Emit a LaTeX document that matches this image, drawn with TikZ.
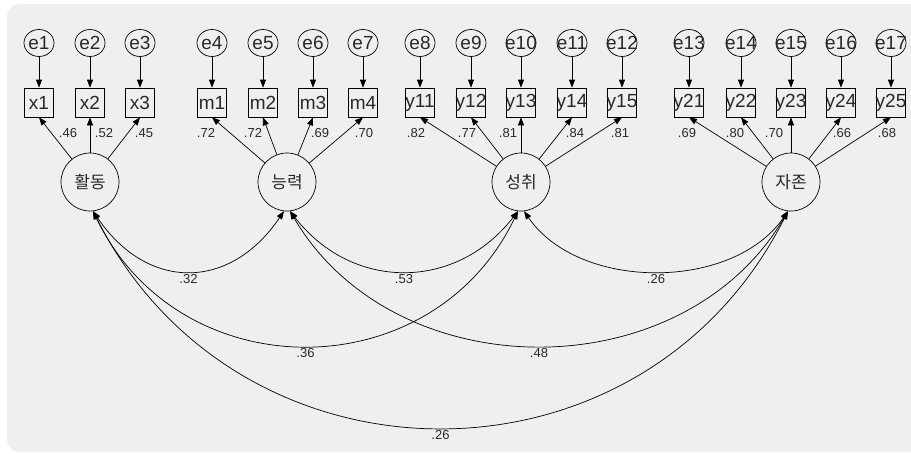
\documentclass[tikz,border=0pt]{standalone}
\usepackage{fontspec}
\setmainfont{Liberation Sans}
\newfontfamily\kr{Noto Sans CJK KR}
\usetikzlibrary{arrows.meta,shapes.geometric,calc}
\definecolor{bgc}{RGB}{239,239,239}
\definecolor{txt}{RGB}{40,40,40}
\tikzset{
  err/.style={ellipse, draw, line width=0.7pt, minimum width=30pt, minimum height=27pt, inner sep=0pt, text=txt, font=\fontsize{19}{19}\selectfont},
  obs/.style={rectangle, draw, line width=0.7pt, minimum size=29pt, inner sep=0pt, text=txt, font=\fontsize{19}{19}\selectfont},
  lat/.style={circle, draw, line width=0.7pt, minimum size=58pt, inner sep=0pt, text=txt, font=\kr\fontsize{17}{17}\selectfont},
  val/.style={inner sep=1pt, text=txt, font=\fontsize{13}{13}\selectfont},
  arr/.style={-{Triangle[length=8pt,width=6pt]}, line width=0.7pt},
  cov/.style={{Triangle[length=8pt,width=6pt]}-{Triangle[length=8pt,width=6pt]}, line width=0.7pt}
}
\newcommand{\ind}[4]{\node[err] (e#1) at (#2,43) {\makebox[0pt]{#3}}; \node[obs] (#1) at (#2,102.5) {\makebox[0pt]{#4}}; \draw[arr] (e#1) -- (#1);}
\newcommand{\load}[4]{\draw[arr] (#1) -- (#2.south); \node[val] (l#2) at ($(#2.south)+(#3,16)$) {#4};}
\begin{document}
\begin{tikzpicture}[x=1pt,y=-1pt]
    \clip (0,0) rectangle (911,453);
    \fill[bgc, rounded corners=12pt] (7,4) rectangle (940,452);
    % latent
    \node[lat] (hd) at (90,182) {활동};
    \node[lat] (nr) at (287,182) {능력};
    \node[lat] (sc) at (521,182) {성취};
    \node[lat] (jj) at (791,182) {자존};
    % x
    \ind{x1}{39}{e1}{x1}
    \ind{x2}{90}{e2}{x2}
    \ind{x3}{140}{e3}{x3}
    % m
    \ind{m1}{212}{e4}{m1}
    \ind{m2}{263}{e5}{m2}
    \ind{m3}{313}{e6}{m3}
    \ind{m4}{363}{e7}{m4}
    % y1
    \ind{y11}{420}{e8}{y11}
    \ind{y12}{471}{e9}{y12}
    \ind{y13}{521}{e10}{y13}
    \ind{y14}{572}{e11}{y14}
    \ind{y15}{622}{e12}{y15}
    % y2
    \ind{y21}{689}{e13}{y21}
    \ind{y22}{741}{e14}{y22}
    \ind{y23}{791}{e15}{y23}
    \ind{y24}{841}{e16}{y24}
    \ind{y25}{891}{e17}{y25}
    % loadings
    \load{hd}{x1}{29}{.46}
    \load{hd}{x2}{14}{.52}
    \load{hd}{x3}{4}{.45}
    \load{nr}{m1}{-6}{.72}
    \load{nr}{m2}{-10}{.72}
    \load{nr}{m3}{7}{.69}
    \load{nr}{m4}{1}{.70}
    \load{sc}{y11}{-4}{.82}
    \load{sc}{y12}{-4}{.77}
    \load{sc}{y13}{-13}{.81}
    \load{sc}{y14}{3}{.84}
    \load{sc}{y15}{-2}{.81}
    \load{jj}{y21}{-2}{.69}
    \load{jj}{y22}{-6}{.80}
    \load{jj}{y23}{-17}{.70}
    \load{jj}{y24}{1}{.66}
    \load{jj}{y25}{-4}{.68}
    % covariances
    \draw[cov] (hd.-84) .. controls +(54,80) and +(-54,80) .. node[val,below=2pt] (c1) {.32} (nr.-96);
    \draw[cov] (nr.-84) .. controls +(62,80) and +(-62,80) .. node[val,below=2pt] (c2) {.53} (sc.-96);
    \draw[cov] (sc.-84) .. controls +(55,80) and +(-55,80) .. node[val,below=2pt] (c3) {.26} (jj.-96);
    \draw[cov] (hd.-84) .. controls +(86,179) and +(-86,179) .. node[val,below=2pt] (c4) {.36} (sc.-96);
    \draw[cov] (nr.-84) .. controls +(105,179) and +(-105,179) .. node[val,below=2pt] (c5) {.48} (jj.-96);
    \draw[cov] (hd.-84) .. controls +(145,288) and +(-145,288) .. node[val,below=2pt] (c6) {.26} (jj.-96);
\end{tikzpicture}
\end{document}
